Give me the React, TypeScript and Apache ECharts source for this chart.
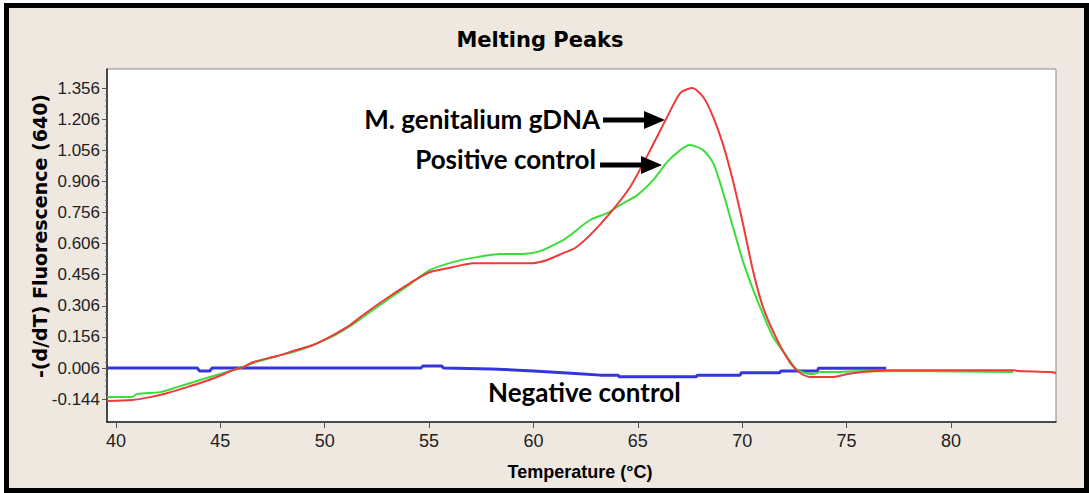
import { useEffect, useRef } from "react";
import * as echarts from "echarts";

const xTicks = [40, 45, 50, 55, 60, 65, 70, 75, 80];
const yTicks = [-0.144, 0.006, 0.156, 0.306, 0.456, 0.606, 0.756, 0.906, 1.056, 1.206, 1.356];

const gDNA: [number, number][] = [
  [39.57, -0.153], [40.77, -0.148], [41.63, -0.134], [42.44, -0.115], [43.4, -0.086],
  [44.03, -0.066], [44.84, -0.037], [45.61, -0.004], [46.09, 0.011], [46.57, 0.035],
  [47.72, 0.064], [48.48, 0.088], [49.44, 0.117], [50.4, 0.165], [51.21, 0.213],
  [51.84, 0.262], [52.99, 0.344], [54.09, 0.416], [55.05, 0.469], [56.15, 0.493],
  [57.11, 0.512], [58.26, 0.512], [59.98, 0.512], [60.65, 0.527], [61.42, 0.56],
  [61.99, 0.585], [62.71, 0.647], [63.67, 0.753], [64.63, 0.879], [65.59, 1.057],
  [66.4, 1.216], [67.03, 1.332], [67.6, 1.356], [68.13, 1.313], [68.61, 1.216],
  [69.09, 1.081], [69.57, 0.903], [70.05, 0.695], [70.53, 0.469], [71.01, 0.295],
  [71.68, 0.141], [72.31, 0.03], [72.78, -0.018], [73.26, -0.037], [74.36, -0.037],
  [75.03, -0.023], [75.79, -0.013], [76.94, -0.004], [82.98, -0.004], [83.17, -0.008],
  [84.75, -0.013], [85.03, -0.018],
];

const positive: [number, number][] = [
  [39.57, -0.134], [40.77, -0.134], [41.01, -0.119], [42.11, -0.11], [42.92, -0.086],
  [43.69, -0.062], [44.5, -0.037], [45.32, -0.013], [46.09, 0.011], [46.57, 0.03],
  [47.72, 0.064], [48.48, 0.083], [49.44, 0.117], [50.4, 0.16], [51.21, 0.208],
  [51.84, 0.252], [52.99, 0.334], [54.09, 0.411], [55.05, 0.479], [56.15, 0.517],
  [57.3, 0.541], [58.4, 0.556], [59.5, 0.556], [60.32, 0.57], [61.42, 0.623],
  [61.76, 0.647], [62.71, 0.72], [63.53, 0.753], [64.15, 0.792], [64.97, 0.84],
  [65.73, 0.912], [66.4, 0.999], [67.03, 1.057], [67.5, 1.081], [68.13, 1.057],
  [68.61, 0.994], [69.09, 0.85], [69.57, 0.681], [70.05, 0.517], [70.53, 0.382],
  [71.01, 0.262], [71.49, 0.155], [72.16, 0.059], [72.64, -0.004], [73.4, -0.023],
  [73.73, -0.013], [74.36, -0.013], [75.79, -0.008], [82.98, -0.013],
];

const negative: [number, number][] = [
  [39.57, 0.006], [43.9, 0.006], [44.0, -0.008], [44.5, -0.008], [44.6, 0.006],
  [54.6, 0.006], [54.7, 0.016], [55.6, 0.016], [55.7, 0.006], [58.0, 0.002],
  [60.0, -0.008], [62.0, -0.02], [63.2, -0.028], [64.05, -0.028], [64.1, -0.036],
  [67.8, -0.036], [67.85, -0.028], [69.9, -0.028], [69.95, -0.017], [71.8, -0.017],
  [71.85, -0.008], [73.6, -0.008], [73.65, 0.005], [76.9, 0.005],
];

const SANS = '"Liberation Sans", Arial, sans-serif';
const DEJA = '"DejaVu Sans", "Liberation Sans", sans-serif';
const CAL = 'Lato, "Open Sans", sans-serif';

export default function App() {
  const ref = useRef<HTMLDivElement>(null);
  useEffect(() => {
    const chart = echarts.init(ref.current!, null, { renderer: "svg" });
    const minor: number[] = [];
    for (let i = 0; i < yTicks.length - 1; i++) {
      for (let k = 1; k < 5; k++) minor.push(yTicks[i] + (k * (yTicks[i + 1] - yTicks[i])) / 5);
    }
    const txt = (x: number, y: number, text: string, font: string, align: string, rotation = 0) => ({
      type: "text",
      x,
      y,
      rotation,
      z: 100,
      style: {
        text,
        font,
        fill: "#000",
        textAlign: align,
        textVerticalAlign: "middle",
        align,
        verticalAlign: "middle",
      },
    });
    const smooth = 0.25;
    chart.setOption({
      animation: false,
      grid: {
        left: 107,
        top: 69,
        width: 949,
        height: 353,
        show: true,
        backgroundColor: "#ffffff",
        borderColor: "#888",
        borderWidth: 1,
      },
      xAxis: {
        type: "value",
        min: 39.57,
        max: 85.03,
        axisLine: { show: true, onZero: false, lineStyle: { color: "#222", width: 1.5 } },
        axisTick: { show: true, customValues: xTicks, length: 6, lineStyle: { color: "#555" } },
        axisLabel: {
          customValues: xTicks,
          margin: 10,
          fontSize: 18,
          fontFamily: SANS,
          color: "#222",
        },
        splitLine: { show: false },
      },
      yAxis: [
        {
          type: "value",
          min: -0.254,
          max: 1.448,
          axisLine: { show: true, onZero: false, lineStyle: { color: "#222", width: 1.5 } },
          axisTick: { show: true, customValues: yTicks, length: 5, lineStyle: { color: "#555" } },
          axisLabel: {
            customValues: yTicks,
            formatter: (v: number) => v.toFixed(3),
            margin: 7,
            fontSize: 17,
            fontFamily: SANS,
            color: "#222",
          },
          splitLine: { show: false },
        },
        {
          type: "value",
          min: -0.254,
          max: 1.448,
          position: "left",
          axisLine: { show: false },
          axisTick: { show: true, customValues: minor, length: 2, lineStyle: { color: "#777" } },
          axisLabel: { show: false },
          splitLine: { show: false },
        },
      ],
      series: [
        {
          name: "Negative control",
          type: "line",
          data: negative,
          showSymbol: false,
          lineStyle: { color: "#3535dd", width: 3 },
          z: 2,
        },
        {
          name: "Positive control",
          type: "line",
          data: positive,
          showSymbol: false,
          smooth,
          lineStyle: { color: "#3cdc3c", width: 2 },
          z: 3,
        },
        {
          name: "M. genitalium gDNA",
          type: "line",
          data: gDNA,
          showSymbol: false,
          smooth,
          lineStyle: { color: "#ee3a3a", width: 2 },
          z: 4,
        },
      ],
      graphic: [
        txt(540, 40, "Melting Peaks", `bold 21px ${DEJA}`, "center"),
        txt(40, 236, "-(d/dT) Fluorescence (640)", `bold 19px ${DEJA}`, "center", Math.PI / 2),
        txt(580, 472, "Temperature (°C)", `bold 18px ${SANS}`, "center"),
        txt(600, 119, "M. genitalium gDNA", `bold 26px ${CAL}`, "right"),
        txt(596, 159, "Positive control", `bold 26px ${CAL}`, "right"),
        txt(488, 392, "Negative control", `bold 26px ${CAL}`, "left"),
        {
          type: "line",
          z: 100,
          shape: { x1: 603, y1: 120, x2: 648, y2: 120 },
          style: { stroke: "#000", lineWidth: 5 },
        },
        {
          type: "polygon",
          z: 100,
          shape: { points: [[644, 111], [665, 120], [644, 129]] },
          style: { fill: "#000" },
        },
        {
          type: "line",
          z: 100,
          shape: { x1: 600, y1: 165, x2: 645, y2: 165 },
          style: { stroke: "#000", lineWidth: 5 },
        },
        {
          type: "polygon",
          z: 100,
          shape: { points: [[641, 156], [662, 165], [641, 174]] },
          style: { fill: "#000" },
        },
      ],
    });
    return () => chart.dispose();
  }, []);
  return (
    <div style={{ position: "fixed", left: 0, top: 0, width: 1089, height: 493, background: "#fff" }}>
      <div
        style={{
          position: "absolute",
          left: 4,
          top: 3,
          width: 1085,
          height: 490,
          boxSizing: "border-box",
          border: "5px solid #000",
          background: "#eee8e1",
        }}
      />
      <div ref={ref} style={{ position: "absolute", left: 0, top: 0, width: 1089, height: 493 }} />
    </div>
  );
}
